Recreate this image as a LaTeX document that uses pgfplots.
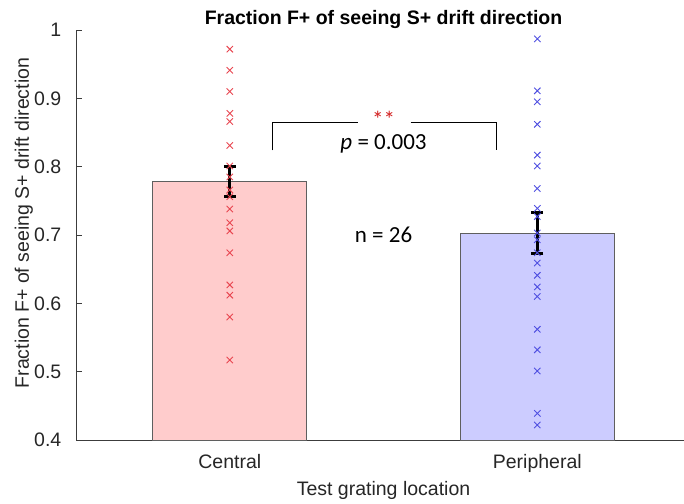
\documentclass[border=0pt]{standalone}
\usepackage{pgfplots}
\pgfplotsset{compat=1.18}
\usepackage{fontspec}
\setmainfont{Liberation Sans}
\newfontfamily\calibri{Carlito}
\definecolor{barred}{RGB}{255,204,204}
\definecolor{barblue}{RGB}{204,204,255}
\definecolor{mkred}{RGB}{232,70,80}
\definecolor{mkblue}{RGB}{80,80,225}
\definecolor{edgegray}{RGB}{95,95,95}
\definecolor{axgray}{RGB}{60,60,60}
\definecolor{starred}{RGB}{210,30,30}
\begin{document}
\fontsize{19.5}{23}\selectfont
\begin{tikzpicture}[x=1pt,y=1pt]
\useasboundingbox (-76,-63) rectangle (608,440);
\begin{axis}[
  at={(0,0)}, anchor=south west,
  scale only axis, width=608pt, height=410pt,
  xmin=0.5, xmax=2.477, ymin=0.4, ymax=1,
  axis x line*=bottom, axis y line*=left,
  axis line style={axgray, line width=0.8pt},
  xtick={1,2}, xticklabels={Central,Peripheral},
  major x tick style={draw=none},
  ytick={0.4,0.5,0.6,0.7,0.8,0.9,1},
  yticklabels={0.4,0.5,0.6,0.7,0.8,0.9,1},
  major y tick style={axgray, line width=0.8pt},
  major tick length=6pt, tick align=inside,
  ticklabel style={font=\fontsize{19.5}{23}\selectfont, text=black!85},
  xticklabel style={yshift=-8pt},
  yticklabel style={xshift=-8pt},
  title={\textbf{Fraction F+ of seeing S+ drift direction}},
  title style={at={(axis description cs:0.5058,1)}, anchor=base, yshift=0pt, font=\fontsize{19.5}{23}\selectfont},
  xlabel={Test grating location},
  xlabel style={at={(axis description cs:0.5058,0)}, anchor=base, yshift=-55pt, font=\fontsize{19.5}{23}\selectfont, text=black!85},
  ylabel={Fraction F+ of seeing S+ drift direction},
  ylabel style={at={(axis description cs:-0.0773,0.529)}, anchor=base, font=\fontsize{19.5}{23}\selectfont, text=black!85},
  clip=false,
]
% bars
\addplot[ybar, bar width=0.5, bar shift=0pt, fill=barred, draw=edgegray, line width=0.8pt]
  coordinates {(1,0.778)};
\addplot[ybar, bar width=0.5, bar shift=0pt, fill=barblue, draw=edgegray, line width=0.8pt]
  coordinates {(2,0.703)};
% individual subjects
\addplot[only marks, mark=x, mark size=4.5pt, mkred, mark options={line width=0.9pt}] coordinates {
(1,0.972) (1,0.941) (1,0.910) (1,0.878) (1,0.866) (1,0.831) (1,0.801) (1,0.785)
(1,0.766) (1,0.756) (1,0.738) (1,0.718) (1,0.706) (1,0.674) (1,0.627) (1,0.612)
(1,0.580) (1,0.517)};
\addplot[only marks, mark=x, mark size=4.5pt, mkblue, mark options={line width=0.9pt}] coordinates {
(2,0.987) (2,0.911) (2,0.895) (2,0.862) (2,0.817) (2,0.801) (2,0.768) (2,0.739)
(2,0.727) (2,0.703) (2,0.693) (2,0.674) (2,0.659) (2,0.641) (2,0.624) (2,0.610)
(2,0.562) (2,0.532) (2,0.501) (2,0.439) (2,0.422)};
% error bars (SEM)
\addplot[draw=none, mark=none, forget plot,
  error bars/.cd, y dir=both, y explicit,
  error bar style={black, line width=3pt},
  error mark options={rotate=90, black, mark size=6pt, line width=2.5pt}]
  coordinates {(1,0.778) +- (0,0.022) (2,0.703) +- (0,0.030)};
% significance bracket
\draw[black, line width=0.9pt] (axis cs:1.14,0.824) -- (axis cs:1.14,0.865) -- (axis cs:1.416,0.865);
\draw[black, line width=0.9pt] (axis cs:1.588,0.865) -- (axis cs:1.867,0.865) -- (axis cs:1.867,0.824);
\node[text=starred, font=\calibri\fontsize{23}{26}\selectfont] at (axis cs:1.5,0.870) {**};
\node[font=\calibri\fontsize{23}{26}\selectfont] at (axis cs:1.5,0.833) {\textit{p} = 0.003};
\node[font=\calibri\fontsize{23}{26}\selectfont] at (axis cs:1.5,0.700) {n = 26};
\end{axis}
\end{tikzpicture}
\end{document}
